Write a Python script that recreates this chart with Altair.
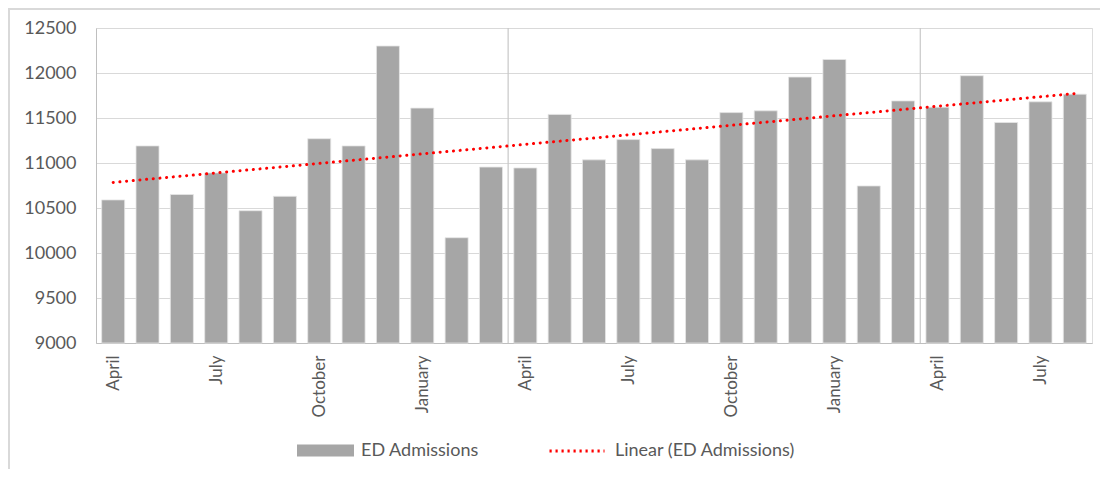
import json
import altair as alt
import pandas as pd

# ---- data ----
months = (["April", "May", "June", "July", "August", "September", "October",
           "November", "December", "January", "February", "March"] * 2
          + ["April", "May", "June", "July", "August"])
admissions = [10590, 11190, 10650, 10890, 10470, 10630, 11270, 11190, 12300,
              11610, 10170, 10955, 10945, 11540, 11035, 11260, 11160, 11035,
              11560, 11580, 11955, 12150, 10745, 11690, 11620, 11970, 11450,
              11680, 11765]
tick_months = ["April", "July", "October", "January"]
y_ticks = [9000, 9500, 10000, 10500, 11000, 11500, 12000, 12500]
series_bar = "ED Admissions"
series_trend = "Linear (ED Admissions)"

Y_MIN, Y_MAX = y_ticks[0], y_ticks[-1]
TEXT = "#595959"
FONT = "Lato"
W, H = 996, 315
PAD = {"left": 88, "top": 20, "right": 8, "bottom": 126}

df = pd.DataFrame({"idx": list(range(len(months))), "month": months, "value": admissions})
x_tick_values = [i for i, m in enumerate(months) if m in tick_months]
label_expr = json.dumps(months) + "[datum.value]"

x_scale = alt.Scale(domain=[-0.5, len(months) - 0.5], nice=False, zero=False)
y_scale = alt.Scale(domain=[Y_MIN, Y_MAX], nice=False, zero=False)

base = alt.Chart(df)

bars = base.transform_calculate(
    x0="datum.idx - 0.335", x1="datum.idx + 0.335", series="'%s'" % series_bar
).mark_bar(stroke="#e6e6e6", strokeWidth=0.8).encode(
    x=alt.X("x0:Q", scale=x_scale, axis=alt.Axis(
        values=x_tick_values, labelExpr=label_expr, labelAngle=270,
        labelFontSize=17, labelColor=TEXT, labelPadding=12, ticks=False,
        grid=False, domainColor="#bfbfbf", title=None, labelFont=FONT)),
    x2="x1:Q",
    y=alt.Y("value:Q", scale=y_scale, axis=alt.Axis(
        values=y_ticks, format="d", labelFontSize=18, labelColor=TEXT, labelPadding=20,
        ticks=False, grid=True, gridColor="#d9d9d9", domainColor="#bfbfbf",
        title=None, labelFont=FONT)),
    y2=alt.datum(Y_MIN),
    fill=alt.Fill("series:N", scale=alt.Scale(domain=[series_bar], range=["#a6a6a6"]),
                  legend=alt.Legend(orient="none", legendX=201, legendY=394, title=None,
                                    symbolType="M-1,-0.21L1,-0.21L1,0.21L-1,0.21Z",
                                    symbolSize=3249, symbolStrokeWidth=0,
                                    labelFontSize=18, labelColor=TEXT, labelFont=FONT,
                                    labelOffset=7, labelLimit=400)),
)

dividers = base.transform_filter("datum.month == 'March'").transform_calculate(
    xb="datum.idx + 0.5"
).mark_rule(color="#c8c8c8", strokeWidth=1.2).encode(
    x=alt.X("xb:Q", scale=x_scale)
)

trend = base.transform_regression("idx", "value").transform_calculate(
    series="'%s'" % series_trend
).mark_line(strokeWidth=3, strokeCap="round", strokeDash=[0.1, 6.6]).encode(
    x=alt.X("idx:Q", scale=x_scale),
    y=alt.Y("value:Q", scale=y_scale),
    stroke=alt.Stroke("series:N", scale=alt.Scale(domain=[series_trend], range=["#ff0000"]),
                      legend=alt.Legend(orient="none", legendX=452, legendY=394, title=None,
                                        symbolType="stroke", symbolSize=3025,
                                        symbolStrokeWidth=3, symbolDash=[2.2, 3.8],
                                        labelFontSize=18, labelColor=TEXT, labelFont=FONT,
                                        labelOffset=9, labelLimit=400)),
)

# light chart frame (top and left edges, as in the reference)
frame_top = alt.Chart(df).mark_rule(color="#d9d9d9", strokeWidth=1.5).encode(
    x=alt.value(-PAD["left"]), x2=alt.value(W + PAD["right"]), y=alt.value(-PAD["top"] + 1)
)
frame_left = alt.Chart(df).mark_rule(color="#d9d9d9", strokeWidth=1.5).encode(
    x=alt.value(-PAD["left"] + 1), y=alt.value(-PAD["top"]), y2=alt.value(H + PAD["bottom"])
)

chart = alt.layer(frame_top, frame_left, bars, dividers, trend).resolve_scale(
    fill="independent", stroke="independent"
).properties(
    width=W, height=H,
    autosize=alt.AutoSizeParams(type="none"),
    padding=PAD,
).configure_view(stroke=None).configure(font=FONT)

chart.save("out.html", embed_options={"renderer": "svg", "actions": False})
